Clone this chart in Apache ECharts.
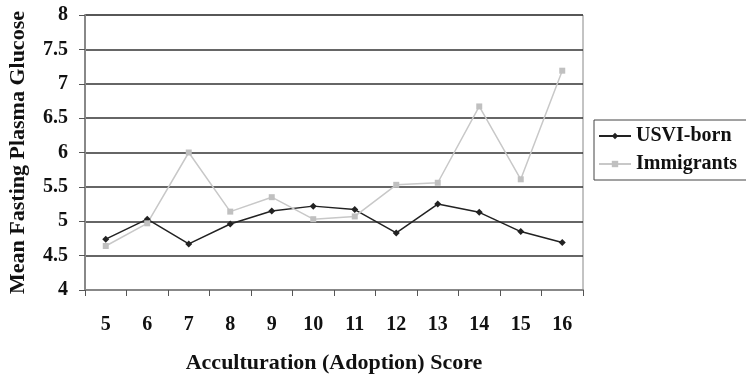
<!DOCTYPE html>
<html>
<head>
<meta charset="utf-8">
<script src="https://cdn.jsdelivr.net/npm/echarts@6/dist/echarts.min.js"></script>
<style>
  html, body { margin: 0; padding: 0; background: #fff; }
  #chart { width: 746px; height: 375px; }
</style>
</head>
<body>
<div id="chart"></div>
<script>
var scores = ['5', '6', '7', '8', '9', '10', '11', '12', '13', '14', '15', '16'];
var usviBorn = [4.74, 5.03, 4.67, 4.96, 5.15, 5.22, 5.17, 4.83, 5.25, 5.13, 4.85, 4.69];
var immigrants = [4.64, 4.97, 6.0, 5.14, 5.35, 5.03, 5.07, 5.53, 5.56, 6.67, 5.61, 7.19];

var serif = '"Liberation Serif", "Times New Roman", serif';

var glucoseChart = function () {
    var myChart = echarts.init(document.getElementById('chart'));
    var option = {
        animation: false,
        textStyle: { fontFamily: serif },
        grid: {
            show: true,
            left: 85,
            right: 163,
            top: 15,
            bottom: 85,
            outerBoundsMode: 'none',
            containLabel: false,
            borderColor: '#888',
            borderWidth: 1
        },
        legend: {
            orient: 'vertical',
            left: 594,
            top: 120,
            padding: [6, 10, 6, 4],
            itemGap: 8,
            itemWidth: 32,
            itemHeight: 8,
            borderColor: '#444',
            borderWidth: 1,
            textStyle: {
                fontFamily: serif,
                fontSize: 20,
                fontWeight: 'bold',
                color: '#111'
            },
            data: ['USVI-born', 'Immigrants']
        },
        xAxis: {
            type: 'category',
            data: scores,
            boundaryGap: true,
            name: 'Acculturation (Adoption) Score',
            nameLocation: 'middle',
            nameGap: 62,
            nameTextStyle: {
                fontFamily: serif,
                fontSize: 22,
                fontWeight: 'bold',
                color: '#111'
            },
            axisLine: { lineStyle: { color: '#888', width: 2 } },
            axisTick: { show: true, length: 6, lineStyle: { color: '#555' } },
            axisLabel: {
                margin: 25,
                fontFamily: serif,
                fontSize: 20,
                fontWeight: 'bold',
                color: '#111'
            }
        },
        yAxis: {
            type: 'value',
            min: 4,
            max: 8,
            interval: 0.5,
            name: 'Mean Fasting Plasma Glucose',
            nameLocation: 'middle',
            nameGap: 56,
            nameTextStyle: {
                fontFamily: serif,
                fontSize: 22,
                fontWeight: 'bold',
                color: '#111'
            },
            axisLine: { show: true, lineStyle: { color: '#888', width: 2 } },
            axisTick: { show: true, length: 6, lineStyle: { color: '#555' } },
            axisLabel: {
                margin: 17,
                fontFamily: serif,
                fontSize: 20,
                fontWeight: 'bold',
                color: '#111'
            },
            splitLine: { lineStyle: { color: '#333', width: 1.5 } }
        },
        series: [
            {
                name: 'USVI-born',
                type: 'line',
                data: usviBorn,
                symbol: 'diamond',
                symbolSize: 7,
                itemStyle: { color: '#222' },
                lineStyle: { color: '#222', width: 1.5 }
            },
            {
                name: 'Immigrants',
                type: 'line',
                data: immigrants,
                symbol: 'rect',
                symbolSize: 6,
                itemStyle: { color: '#c0c0c0' },
                lineStyle: { color: '#c8c8c8', width: 1.5 }
            }
        ]
    };
    myChart.setOption(option);
};

glucoseChart();
</script>
</body>
</html>
